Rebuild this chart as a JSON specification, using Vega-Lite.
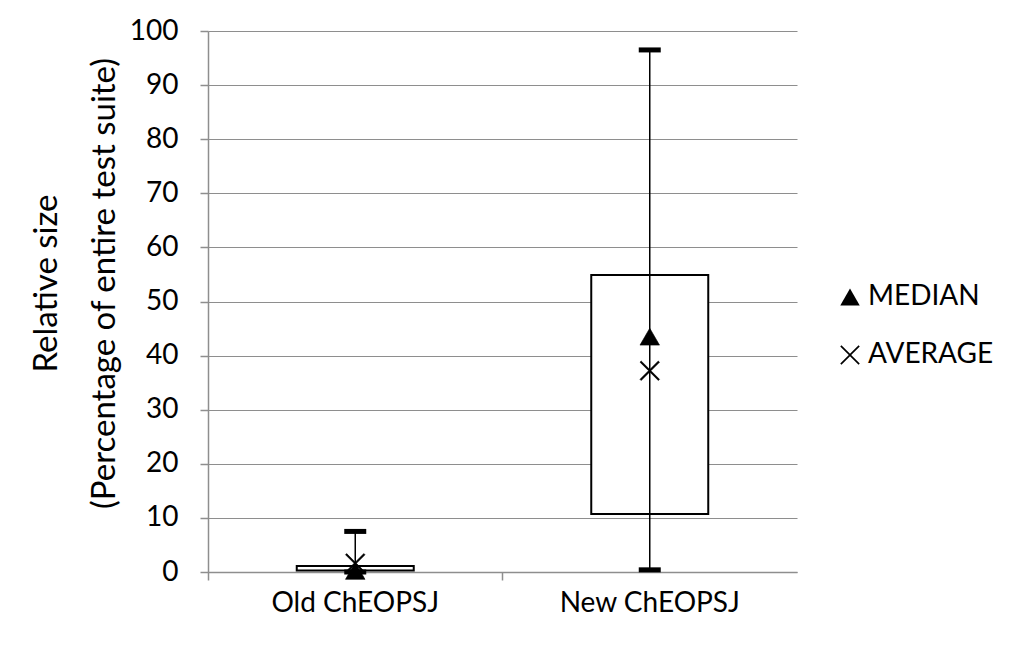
{
  "$schema": "https://vega.github.io/schema/vega-lite/v6.json",
  "width": 589,
  "height": 541,
  "autosize": {"type": "none"},
  "padding": {"left": 208, "top": 31, "right": 227, "bottom": 76},
  "background": "white",
  "config": {
    "font": "Lato",
    "view": {"stroke": null},
    "axisY": {
      "values": [0, 10, 20, 30, 40, 50, 60, 70, 80, 90, 100],
      "grid": true,
      "gridColor": "#8e8e8e",
      "gridWidth": 1.2,
      "domainColor": "#8e8e8e",
      "domainWidth": 1.5,
      "tickColor": "#8e8e8e",
      "tickWidth": 1.5,
      "tickSize": 8,
      "labelFontSize": 28,
      "labelColor": "black",
      "labelPadding": 22,
      "titleFontSize": 33,
      "titleFontWeight": "normal",
      "titleColor": "black",
      "titleLineHeight": 58,
      "titlePadding": 8,
      "titleY": 252
    }
  },
  "data": {
    "values": [
      {"group": "Old ChEOPSJ", "min": 0, "q1": 0.3, "MEDIAN": 0.2, "q3": 1.1, "max": 7.5, "AVERAGE": 1.6},
      {"group": "New ChEOPSJ", "min": 0.4, "q1": 10.7, "MEDIAN": 43.5, "q3": 54.9, "max": 96.5, "AVERAGE": 37.2}
    ]
  },
  "encoding": {
    "x": {
      "field": "group",
      "type": "nominal",
      "sort": null,
      "scale": {"paddingInner": 0, "paddingOuter": 0},
      "axis": {
        "title": null,
        "labelAngle": 0,
        "bandPosition": 0,
        "tickSize": 8,
        "tickWidth": 1.5,
        "labelFontSize": 28,
        "labelLimit": 0,
        "labelPadding": 9,
        "labelColor": "black",
        "domainColor": "#8e8e8e",
        "domainWidth": 1.5,
        "tickColor": "#8e8e8e",
        "grid": false
      }
    }
  },
  "layer": [
    {
      "mark": {"type": "bar", "size": 117, "fill": "white", "stroke": "black", "strokeWidth": 2},
      "encoding": {
        "y": {
          "field": "q1",
          "type": "quantitative",
          "title": ["Relative size", "(Percentage of entire test suite)"],
          "scale": {"domain": [0, 100], "nice": false}
        },
        "y2": {"field": "q3"}
      }
    },
    {
      "mark": {"type": "rule", "color": "black", "strokeWidth": 1.5},
      "encoding": {
        "y": {"field": "min", "type": "quantitative", "title": ["Relative size", "(Percentage of entire test suite)"]},
        "y2": {"field": "max"}
      }
    },
    {
      "mark": {"type": "tick", "color": "black", "size": 22, "thickness": 5, "opacity": 1},
      "encoding": {"y": {"field": "max", "type": "quantitative", "title": ["Relative size", "(Percentage of entire test suite)"]}}
    },
    {
      "mark": {"type": "tick", "color": "black", "size": 22, "thickness": 5, "opacity": 1},
      "encoding": {"y": {"field": "min", "type": "quantitative", "title": ["Relative size", "(Percentage of entire test suite)"]}}
    },
    {
      "transform": [{"fold": ["MEDIAN", "AVERAGE"], "as": ["stat", "value"]}],
      "mark": {"type": "point", "filled": true, "fill": "black", "stroke": "black", "strokeWidth": 0.6, "opacity": 1, "size": 380},
      "encoding": {
        "y": {"field": "value", "type": "quantitative", "title": ["Relative size", "(Percentage of entire test suite)"]},
        "shape": {
          "field": "stat",
          "type": "nominal",
          "scale": {
            "domain": ["MEDIAN", "AVERAGE"],
            "range": ["triangle-up", "M-0.88,-1L0,-0.12L0.88,-1L1,-0.88L0.12,0L1,0.88L0.88,1L0,0.12L-0.88,1L-1,0.88L-0.12,0L-1,-0.88Z"]
          },
          "legend": {
            "title": null,
            "orient": "none",
            "legendX": 628,
            "legendY": 252,
            "padding": 0,
            "labelFontSize": 28,
            "labelColor": "black",
            "labelOffset": 4,
            "rowPadding": 30,
            "symbolSize": 380,
            "symbolFillColor": "black",
            "symbolStrokeColor": "black",
            "symbolStrokeWidth": 0.6,
            "symbolOpacity": 1
          }
        }
      }
    }
  ]
}
